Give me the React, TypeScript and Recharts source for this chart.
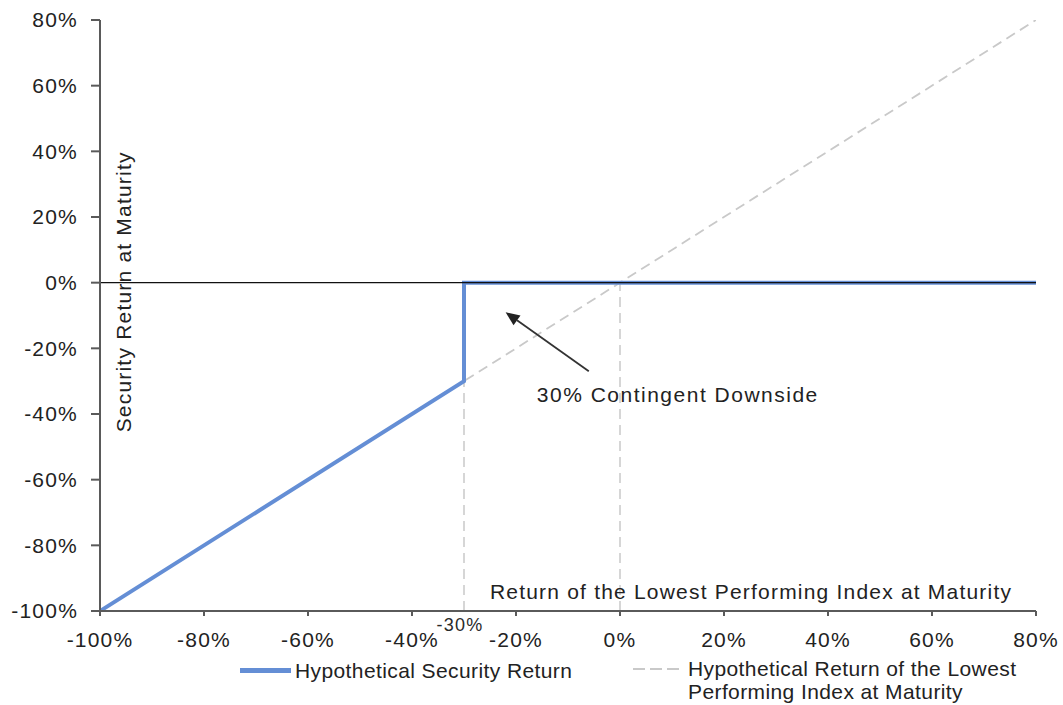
import React from 'react';
import {
  LineChart, Line, XAxis, YAxis, ReferenceLine, ReferenceDot, Label, Legend,
} from 'recharts';

const xTicks = [-100, -80, -60, -40, -20, 0, 20, 40, 60, 80];
const yTicks = [-100, -80, -60, -40, -20, 0, 20, 40, 60, 80];

const securityReturn = [
  { x: -100, y: -100 },
  { x: -30, y: -30 },
  { x: -30, y: 0 },
  { x: 80, y: 0 },
];
const indexReturn = [
  { x: -100, y: -100 },
  { x: 80, y: 80 },
];

const barrierLevel = -30;
const arrowFrom = { x: -6, y: -27 };
const arrowTo = { x: -22, y: -9 };
const annotationText = '30% Contingent Downside';
const annotationAt = { x: -16, y: -34 };

const FONT = '"Liberation Sans", Arial, sans-serif';
const TEXT = '#222';
const BLUE = '#648ed5';
const GRAY_DASH = '#c9c9c9';

const fmt = (v: number) => `${v}%`;

const Arrow = (props: any) => {
  const { x1, y1, x2, y2 } = props;
  if ([x1, y1, x2, y2].some((v) => v == null || isNaN(v))) return null;
  const ang = Math.atan2(y2 - y1, x2 - x1);
  const len = 14, w = 6;
  const bx = x2 - len * Math.cos(ang);
  const by = y2 - len * Math.sin(ang);
  const px = -Math.sin(ang) * w, py = Math.cos(ang) * w;
  return (
    <g>
      <line x1={x1} y1={y1} x2={bx} y2={by} stroke="#333" strokeWidth={1.8} />
      <polygon points={`${x2},${y2} ${bx + px},${by + py} ${bx - px},${by - py}`} fill="#222" />
    </g>
  );
};

const LegendContent = () => (
  <div style={{ position: 'relative', height: 60, fontFamily: FONT, fontSize: 21, color: TEXT, letterSpacing: 0.4, lineHeight: '23px' }}>
    <div style={{ position: 'absolute', left: 221, top: 19, display: 'flex', alignItems: 'center' }}>
      <svg width={55} height={23}><line x1={0} y1={11.5} x2={51} y2={11.5} stroke={BLUE} strokeWidth={5} /></svg>
      <span style={{ whiteSpace: 'nowrap' }}>Hypothetical Security Return</span>
    </div>
    <div style={{ position: 'absolute', left: 614, top: 17, display: 'flex', alignItems: 'flex-start' }}>
      <svg width={55} height={23}><line x1={0} y1={12} x2={47} y2={12} stroke={GRAY_DASH} strokeWidth={2} strokeDasharray="12 5" /></svg>
      <span style={{ whiteSpace: 'nowrap' }}>Hypothetical Return of the Lowest<br />Performing Index at Maturity</span>
    </div>
  </div>
);

export default function App() {
  const tickStyle = { fontFamily: FONT, fontSize: 21, fill: TEXT, letterSpacing: 1.2 };
  const labelStyle = { fontFamily: FONT, fontSize: 21, fill: TEXT, letterSpacing: 1.2 };
  return (
    <div style={{ position: 'absolute', left: 0, top: 0, width: 1063, height: 705, background: '#fff' }}>
      <LineChart
        width={1063}
        height={705}
        margin={{ top: 20, right: 27, bottom: 5, left: 19 }}
      >
        <XAxis
          type="number"
          dataKey="x"
          domain={[-100, 80]}
          ticks={xTicks}
          tickFormatter={fmt}
          allowDataOverflow
          stroke="#5a5a5a"
          strokeWidth={2}
          tickSize={5}
          tickMargin={16}
          tick={tickStyle}
          height={29}
        />
        <YAxis
          type="number"
          dataKey="y"
          domain={[-100, 80]}
          ticks={yTicks}
          tickFormatter={fmt}
          allowDataOverflow
          stroke="#5a5a5a"
          strokeWidth={2}
          tickSize={9}
          tickMargin={13}
          tick={tickStyle}
          width={81}
        />
        <Legend verticalAlign="bottom" height={60} content={<LegendContent />} />
        <ReferenceLine
          segment={[{ x: barrierLevel, y: -100 }, { x: barrierLevel, y: 0 }]}
          stroke={GRAY_DASH}
          strokeWidth={1.5}
          strokeDasharray="10 6"
        />
        <ReferenceLine
          segment={[{ x: 0, y: -100 }, { x: 0, y: 0 }]}
          stroke={GRAY_DASH}
          strokeWidth={1.5}
          strokeDasharray="10 6"
        />
        <Line
          data={indexReturn}
          dataKey="y"
          type="linear"
          stroke={GRAY_DASH}
          strokeWidth={1.8}
          strokeDasharray="10 6"
          dot={false}
          isAnimationActive={false}
        />
        <Line
          data={securityReturn}
          dataKey="y"
          type="linear"
          stroke={BLUE}
          strokeWidth={4}
          dot={false}
          isAnimationActive={false}
        />
        <ReferenceLine y={0} stroke="#111" strokeWidth={1.2} />
        <ReferenceLine
          segment={[arrowFrom, arrowTo]}
          shape={(p: any) => <Arrow {...p} />}
        />
        <ReferenceDot x={annotationAt.x} y={annotationAt.y} r={0} fill="none" stroke="none">
          <Label
            value={annotationText}
            position="right"
            offset={0}
            style={{ fontFamily: FONT, fontSize: 21, fill: TEXT, letterSpacing: 1.5 }}
          />
        </ReferenceDot>
        <ReferenceDot x={barrierLevel} y={-100} r={0} fill="none" stroke="none">
          <Label
            content={(p: any) => {
              const vb = p.viewBox || {};
              const cx = (vb.x ?? 0) + (vb.width ?? 0) / 2;
              const cy = (vb.y ?? 0) + (vb.height ?? 0) / 2;
              return (
                <text x={cx - 4} y={cy + 20} textAnchor="middle" style={{ fontFamily: FONT, fontSize: 18, fill: '#2a2a2a', letterSpacing: 1.2 }}>
                  -30%
                </text>
              );
            }}
          />
        </ReferenceDot>
        <ReferenceDot x={-95.4} y={-2.8} r={0} fill="none" stroke="none">
          <Label
            content={(p: any) => {
              const vb = p.viewBox || {};
              const cx = (vb.x ?? 0) + (vb.width ?? 0) / 2;
              const cy = (vb.y ?? 0) + (vb.height ?? 0) / 2;
              return (
                <text x={cx} y={cy} textAnchor="middle" dominantBaseline="central"
                  transform={`rotate(-90 ${cx} ${cy})`}
                  style={labelStyle}>
                  Security Return at Maturity
                </text>
              );
            }}
          />
        </ReferenceDot>
        <ReferenceDot x={25.2} y={-94} r={0} fill="none" stroke="none">
          <Label
            content={(p: any) => {
              const vb = p.viewBox || {};
              const cx = (vb.x ?? 0) + (vb.width ?? 0) / 2;
              const cy = (vb.y ?? 0) + (vb.height ?? 0) / 2;
              return (
                <text x={cx} y={cy} textAnchor="middle" dominantBaseline="central"
                  style={labelStyle}>
                  Return of the Lowest Performing Index at Maturity
                </text>
              );
            }}
          />
        </ReferenceDot>
      </LineChart>
    </div>
  );
}
